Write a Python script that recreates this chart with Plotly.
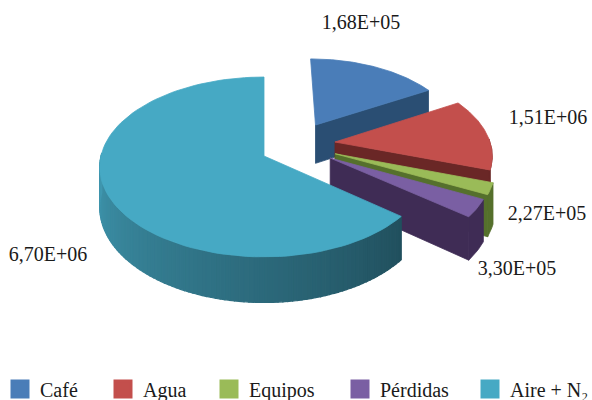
import math
import plotly.graph_objects as go

# Data
categories = ["Café", "Agua", "Equipos", "Pérdidas", "Aire + N₂"]
value_labels = ["1,68E+05", "1,51E+06", "2,27E+05", "3,30E+05", "6,70E+06"]
drawn_share_pct = [16.67, 13.61, 2.2, 3.35, 64.17]   # slice sizes as drawn

# Styles
top_colors = ["#4a7db8", "#c34f4c", "#9abb58", "#7a5fa3", "#46a9c4"]
wall_colors = ["#2a4e73", "#6a2726", "#55702c", "#3f2c55", "#2f7f95"]
explode_x = [0.33, 0.444, 0.438, 0.405, 0.0]
explode_y = [0.365, 0.161, 0.025, -0.023, 0.0]
slice_radius = [0.9, 0.97, 0.97, 0.97, 1.0]
label_x = [361, 548, 547, 517, 48]
label_y = [24, 119, 215, 270, 256]
legend_x = [0, 103, 209, 340, 470]

CX, CY, A, B, K, H = 264, 156, 163, 88.6, 0.122, 40
FONT = "Liberation Serif"


def project(u, v, drop=0.0):
    s = 1 / (1 + K * v)
    return CX + A * u * s, CY - B * v * s + drop * H * s


def arc(ex, ey, r, a0, a1, n=60):
    pts = []
    for i in range(n + 1):
        t = math.radians(a0 + (a1 - a0) * i / n)
        pts.append((ex + r * math.sin(t), ey + r * math.cos(t)))
    return pts


def poly(fig, points, color, width=0.8):
    xs = [p[0] for p in points] + [points[0][0]]
    ys = [p[1] for p in points] + [points[0][1]]
    fig.add_trace(go.Scatter(
        x=xs, y=ys, mode="lines", fill="toself", fillcolor=color,
        line=dict(color=color, width=width),
        hoverinfo="skip", showlegend=False))


def mix(c1, c2, f):
    a = [int(c1[i:i + 2], 16) for i in (1, 3, 5)]
    b = [int(c2[i:i + 2], 16) for i in (1, 3, 5)]
    return "rgb(%d,%d,%d)" % tuple(round(p + (q - p) * f) for p, q in zip(a, b))


fig = go.Figure()
start = 0.0
for i, share in enumerate(drawn_share_pct):
    end = start + share * 3.6
    ex, ey, r = explode_x[i], explode_y[i], slice_radius[i]
    # radial wall at the end of the slice (only for the slices facing us)
    if end < 300:
        tip = arc(ex, ey, r, end, end, 1)[0]
        poly(fig, [project(ex, ey), project(*tip), project(*tip, 1), project(ex, ey, 1)], wall_colors[i])
    # outer wall, in bands so it can be shaded
    a0 = max(start, 88)
    a1 = min(end, 272)
    if a1 > a0:
        bands = max(2, int((a1 - a0) / 1.5)) if i == 4 else 1
        for b in range(bands):
            t0 = a0 + (a1 - a0) * b / bands
            t1 = a0 + (a1 - a0) * (b + 1) / bands
            seg = arc(ex, ey, r, t0, t1, 3 if i == 4 else 20)
            pts = [project(*p) for p in seg] + [project(*p, 1) for p in reversed(seg)]
            if i == 4:
                f = (((t0 + t1) / 2) - 130) / 140
                col = mix("#21505e", "#3f96ae", f)
            else:
                col = wall_colors[i]
            poly(fig, pts, col, 1.2 if i == 4 else 0.8)
    # top face
    poly(fig, [project(ex, ey)] + [project(*p) for p in arc(ex, ey, r, start, end, 90)], top_colors[i])
    start = end

# Value labels
fig.add_trace(go.Scatter(
    x=label_x, y=label_y, mode="text", text=value_labels,
    textposition="middle center",
    textfont=dict(family=FONT, size=20, color="#1a1a1a"),
    hoverinfo="skip", showlegend=False))

# Legend: one entry per category
legends = {}
for i, name in enumerate(categories):
    key = "legend" if i == 0 else f"legend{i + 1}"
    fig.add_trace(go.Scatter(
        x=[None], y=[None], mode="markers", name=name, legend=key,
        marker=dict(symbol="square", size=16, color=top_colors[i],
                    line=dict(color=top_colors[i], width=3)), showlegend=True))
    legends[key] = dict(
        x=legend_x[i] / 592, xanchor="left", y=(400 - 389) / 400, yanchor="middle",
        orientation="h", bgcolor="rgba(0,0,0,0)", itemwidth=30,
        font=dict(family=FONT, size=20, color="#1a1a1a"))

fig.update_layout(
    width=592, height=400, margin=dict(l=0, r=0, t=0, b=0, autoexpand=False),
    paper_bgcolor="white", plot_bgcolor="white",
    xaxis=dict(range=[0, 592], visible=False, fixedrange=True),
    yaxis=dict(range=[400, 0], visible=False, fixedrange=True),
    **legends)

fig.write_html("out.html", post_script="document.body.style.margin='0';",
               config=dict(displayModeBar=False))
